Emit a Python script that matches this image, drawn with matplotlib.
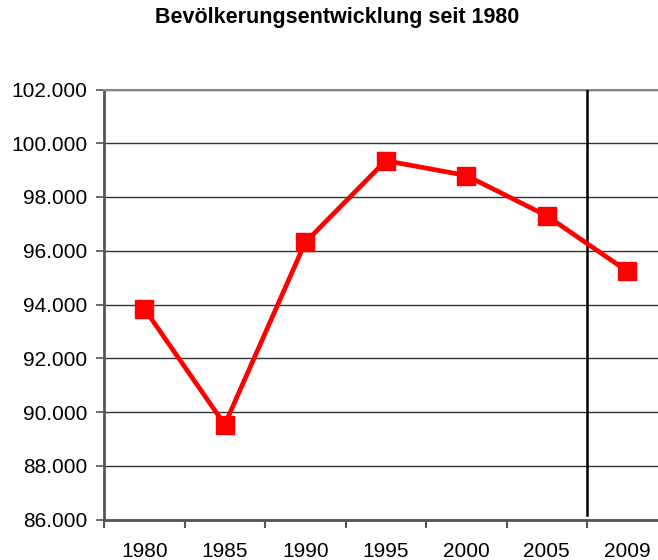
import matplotlib
matplotlib.use("Agg")
import matplotlib.pyplot as plt
from matplotlib.ticker import FuncFormatter, FixedLocator, NullFormatter

plt.rcParams['font.family'] = ['Liberation Sans', 'DejaVu Sans']

years = ["1980", "1985", "1990", "1995", "2000", "2005", "2009"]
population = [93850, 89530, 96310, 99350, 98800, 97300, 95240]
title = "Bevölkerungsentwicklung seit 1980"

fig = plt.figure(figsize=(6.58, 5.6), dpi=100)
ax = fig.add_axes([104/658, 1 - 519.5/560, 563.5/658, 430/560])

x = list(range(len(years)))
ax.plot(x, population, color="#ff0000", lw=3.4, marker="s", ms=13,
        markerfacecolor="#ff0000", markeredgecolor="#ff0000", zorder=5,
        clip_on=False)

ax.set_xlim(-0.5, len(years) - 0.5)
ax.set_ylim(86000, 102000)
ax.set_yticks(range(86000, 102001, 2000))
ax.yaxis.set_major_formatter(FuncFormatter(lambda v, p: f"{int(v):,}".replace(",", ".")))
ax.grid(axis="y", color="#333333", lw=1.0)
ax.set_axisbelow(True)

# category ticks between categories, labels centered
ax.xaxis.set_major_locator(FixedLocator([i - 0.5 for i in range(len(years) + 1)]))
ax.xaxis.set_major_formatter(NullFormatter())
ax.xaxis.set_minor_locator(FixedLocator(x))
ax.set_xticklabels(years, minor=True)
ax.tick_params(axis="x", which="minor", length=0, pad=16, labelsize=15)
ax.tick_params(axis="x", which="major", length=6, width=1.5, color="#555555", direction="out")
ax.tick_params(axis="y", length=6, width=1.2, color="#555555", labelsize=15, pad=6)

ax.spines["right"].set_visible(False)
ax.spines["top"].set_color("#888888")
ax.spines["top"].set_linewidth(1.5)
for s in ["left", "bottom"]:
    ax.spines[s].set_color("#555555")
    ax.spines[s].set_linewidth(2.0)

# vertical separator between 2005 and 2009
ax.axvline(5.5, ymin=0.011, ymax=1, color="black", lw=1.8, zorder=3)

fig.text(337/658, 1 - 18/560, title, ha="center", va="center",
         fontsize=15.5, fontweight="bold")

fig.savefig("out.png", dpi=100)
